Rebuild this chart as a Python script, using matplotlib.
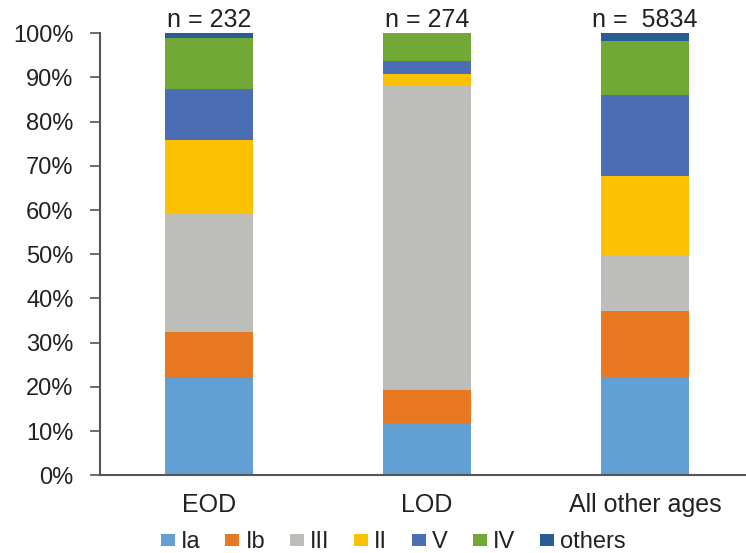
import matplotlib.pyplot as plt
import numpy as np

# serotype share per age group, percent
groups = ["EOD", "LOD", "All other ages"]
counts = ["n = 232", "n = 274", "n =  5834"]
serotypes = ["Ia", "Ib", "III", "II", "V", "IV", "others"]
Ia = [21.9, 11.8, 22.2]
Ib = [10.4, 7.4, 15.0]
III = [27.0, 69.0, 12.6]
II = [16.5, 2.6, 17.8]
V = [11.6, 2.9, 18.4]
IV = [11.6, 6.3, 12.2]
others = [1.0, 0.0, 1.8]

colors = ["#629fd3", "#e87722", "#bdbdba", "#fbc102", "#4a6db4", "#72a835", "#2a5c94"]

plt.rcParams['font.family'] = ['Liberation Sans', 'DejaVu Sans']
txtcol = "#222222"

fig = plt.figure(figsize=(7.46, 5.53), dpi=100)
ax = fig.add_axes([0.134, 0.1405, 0.866, 0.7995])

x = np.arange(len(groups))
bottom = np.zeros(len(groups))
for name, vals, c in zip(serotypes, [Ia, Ib, III, II, V, IV, others], colors):
    ax.bar(x, vals, 0.4, bottom=bottom, color=c, label=name)
    bottom += np.array(vals)

for xi, txt in zip(x, counts):
    ax.text(xi, 100.3, txt, ha="center", va="bottom", fontsize=18, color=txtcol)

ax.set_xlim(-0.5, 2.463)
ax.set_ylim(0, 100)
ax.set_yticks(range(0, 101, 10))
ax.set_yticklabels([f"{v}%" for v in range(0, 101, 10)], fontsize=17, color=txtcol)
ax.set_xticks(x)
ax.set_xticklabels(groups, fontsize=18, color=txtcol)
ax.tick_params(axis="x", length=0, pad=13)
ax.tick_params(axis="y", length=7, width=1.2, color="#555555", direction="out", pad=12)
for s in ["top", "right"]:
    ax.spines[s].set_visible(False)
for s in ["left", "bottom"]:
    ax.spines[s].set_color("#555555")
    ax.spines[s].set_linewidth(1.5)

handles, labels = ax.get_legend_handles_labels()
fig.legend(handles, labels, loc="lower center", bbox_to_anchor=(0.527, 0.0), ncol=7,
           frameon=False, fontsize=17, handlelength=0.6, handleheight=0.4,
           handletextpad=0.25, columnspacing=1.05, borderpad=0, borderaxespad=0,
           labelcolor=txtcol)

fig.savefig("out.png", dpi=100)
